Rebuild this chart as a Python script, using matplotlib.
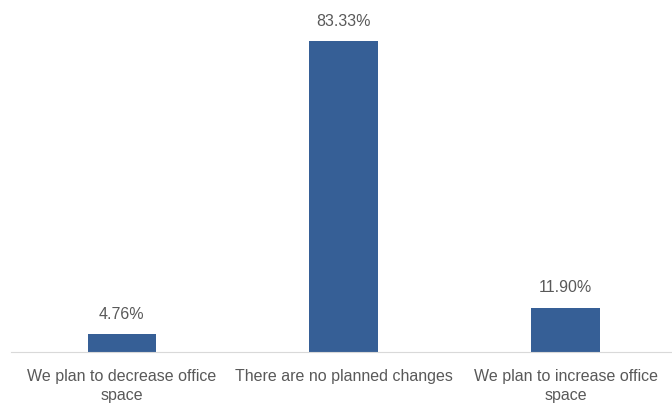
import matplotlib.pyplot as plt

# Data
categories = ['We plan to decrease office\nspace', 'There are no planned changes', 'We plan to increase office\nspace']
values = [4.76, 83.33, 11.90]
labels = ['4.76%', '83.33%', '11.90%']

plt.rcParams['font.family'] = ['Liberation Sans Narrow', 'Liberation Sans', 'DejaVu Sans']
text_color = '#595959'
bar_color = '#365F96'

fig = plt.figure(figsize=(6.72, 4.03), dpi=100)
ax = fig.add_axes([11 / 672, 51 / 403, 661 / 672, 336 / 403])

x = list(range(len(categories)))
bars = ax.bar(x, values, width=0.31, color=bar_color)

for b, lab in zip(bars, labels):
    ax.text(b.get_x() + b.get_width() / 2, b.get_height() + 5.3, lab,
            ha='center', va='center', fontsize=11.5, color=text_color)

ax.set_xlim(-0.5, 2.48)
ax.set_ylim(0, 90)
ax.set_xticks(x)
ax.set_xticklabels(categories, fontsize=11.5, color=text_color, linespacing=1.4)
ax.tick_params(axis='x', length=0, pad=12)
ax.set_yticks([])
for s in ['top', 'right', 'left']:
    ax.spines[s].set_visible(False)
ax.spines['bottom'].set_color('#D9D9D9')

fig.savefig('out.png', dpi=100)
